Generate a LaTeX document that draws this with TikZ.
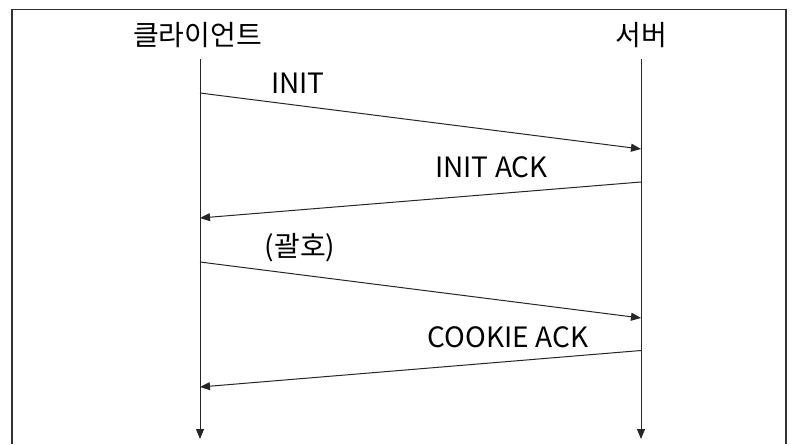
\documentclass[tikz,border=0pt]{standalone}
\usepackage{fontspec}
\setmainfont{Noto Sans CJK KR}
\usepackage{tikz}
\usetikzlibrary{arrows.meta}
\tikzset{
    lifeline/.style={-{Triangle[length=7.5pt, width=6pt]}, line width=0.75pt, black!85},
    message/.style={-{Triangle[length=7.5pt, width=6pt]}, line width=0.75pt, black!85},
    msglabel/.style={font=\fontsize{21}{25}\selectfont, inner sep=0pt, anchor=center}
}

\begin{document}
\begin{tikzpicture}[x=0.75pt, y=-0.75pt]
    % Frame
    \useasboundingbox (0,0) rectangle (794,444);
    \draw[line width=1.1pt, black!80] (12,444) -- (12,9.5) -- (786,9.5) -- (786,444);

    % Participants
    \node[msglabel] (client) at (197.5,35.5) {클라이언트};
    \node[msglabel] (server) at (641.5,35.5) {서버};

    % Lifelines
    \coordinate (clientTop) at (200,59);
    \coordinate (clientEnd) at (200,439);
    \coordinate (serverTop) at (641,59);
    \coordinate (serverEnd) at (641,439);
    \draw[lifeline] (clientTop) -- (clientEnd);
    \draw[lifeline] (serverTop) -- (serverEnd);

    % Message ends on the lifelines
    \coordinate (c1) at (200,93);
    \coordinate (s1) at (641,149);
    \coordinate (s2) at (641,182);
    \coordinate (c2) at (200,218);
    \coordinate (c3) at (200,262);
    \coordinate (s3) at (641,318);
    \coordinate (s4) at (641,350.5);
    \coordinate (c4) at (200,387);

    % Messages
    \draw[message] (c1) -- (s1);
    \node[msglabel] (init) at (298,83) {INIT};
    \draw[message] (s2) -- (c2);
    \node[msglabel] (initack) at (491.5,167) {INIT ACK};
    \draw[message] (c3) -- (s3);
    \node[msglabel] (paren) at (300,248) {(괄호)};
    \draw[message] (s4) -- (c4);
    \node[msglabel] (cookieack) at (508,337) {COOKIE ACK};
\end{tikzpicture}
\end{document}
